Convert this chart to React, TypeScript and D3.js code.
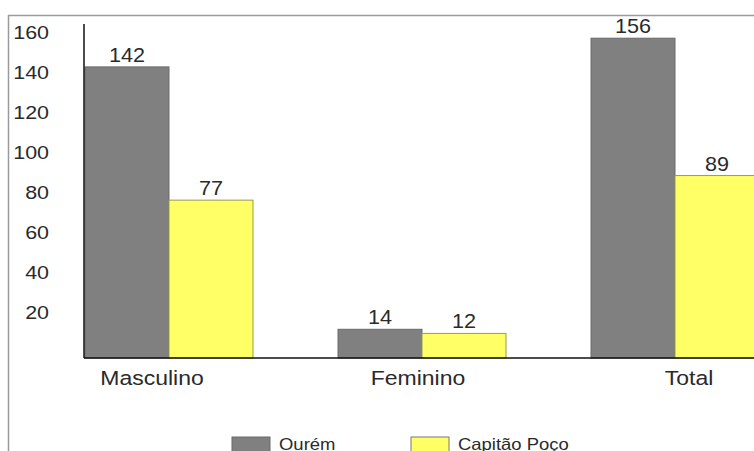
import React from 'react';
import { scaleBand, scaleLinear, scaleOrdinal } from 'd3';

const categories = ['Masculino', 'Feminino', 'Total'];
const seriesNames = ['Ourém', 'Capitão Poço'];
const ourem = [142, 14, 156];
const capitaoPoco = [77, 12, 89];
const yTicks = [20, 40, 60, 80, 100, 120, 140, 160];

// layout tweaks for category labels (px from group centre)
const catNudge = [-17, -4, 14];

const W = 754;
const H = 451;
const baseY = 358;
const axisX = 84;
const font = 'Liberation Sans, Arial, sans-serif';

// the original font is drawn a bit wider than Arial
const T = ({ x, y, size, sx = 1.15, anchor = 'start', children }: any) => (
  <text
    transform={`translate(${x},${y}) scale(${sx},1)`}
    textAnchor={anchor}
    fontSize={size}
    fill='#2a2a2a'
  >
    {children}
  </text>
);

const App = () => {
  const rows = categories.map((c, i) => ({ cat: c, vals: [ourem[i], capitaoPoco[i]] }));

  const x0 = scaleBand().domain(categories).range([85, 759]).paddingInner(0.336).paddingOuter(0);
  const x1 = scaleBand().domain(seriesNames).range([0, x0.bandwidth()]);
  const y = scaleLinear().domain([0, 160]).range([baseY, 30]);
  const yLab = scaleLinear().domain([0, 160]).range([352, 32]);
  const color = scaleOrdinal<string>().domain(seriesNames).range(['#808080', '#ffff66']);
  const stroke = scaleOrdinal<string>().domain(seriesNames).range(['#6a6a6a', '#9a9a50']);

  return (
    <svg width={W} height={H} style={{ position: 'absolute', left: 0, top: 0 }} fontFamily={font}>
      <rect x={0} y={0} width={W} height={H} fill='#fff' />
      {/* outer frame */}
      <line x1={8} y1={15.5} x2={W} y2={15.5} stroke='#9a9a9a' strokeWidth={1.5} />
      <line x1={8.5} y1={15} x2={8.5} y2={H} stroke='#9a9a9a' strokeWidth={1.5} />

      {/* y tick labels */}
      {yTicks.map((t) => (
        <T key={t} x={49} y={yLab(t) + 6.5} size={18.5} sx={1.16} anchor='end'>
          {t}
        </T>
      ))}

      {/* bars */}
      {rows.map((r, i) => (
        <g key={r.cat} transform={`translate(${x0(r.cat)},0)`}>
          {r.vals.map((v, j) => {
            const s = seriesNames[j];
            return (
              <g key={s}>
                <rect
                  x={x1(s)}
                  y={y(v)}
                  width={x1.bandwidth()}
                  height={baseY - y(v)}
                  fill={color(s)}
                  stroke={stroke(s)}
                  strokeWidth={1}
                />
                <T x={(x1(s) ?? 0) + x1.bandwidth() / 2} y={y(v) - 5} size={20} sx={1.08} anchor='middle'>
                  {v}
                </T>
              </g>
            );
          })}
          <T x={x0.bandwidth() / 2 + catNudge[i]} y={baseY + 27} size={19.5} sx={1.18} anchor='middle'>
            {r.cat}
          </T>
        </g>
      ))}

      {/* axes */}
      <line x1={axisX} y1={24} x2={axisX} y2={baseY} stroke='#111' strokeWidth={1.5} />
      <line x1={axisX} y1={baseY} x2={W} y2={baseY} stroke='#111' strokeWidth={1.5} />

      {/* legend */}
      {seriesNames.map((s, i) => (
        <g key={s} transform={`translate(${232 + i * 179},437)`}>
          <rect x={0} y={0} width={38} height={20} fill={color(s)} stroke={i === 0 ? '#6a6a6a' : '#777'} />
          <T x={47} y={13} size={16.5} sx={1.12}>
            {s}
          </T>
        </g>
      ))}
    </svg>
  );
};

export default App;
